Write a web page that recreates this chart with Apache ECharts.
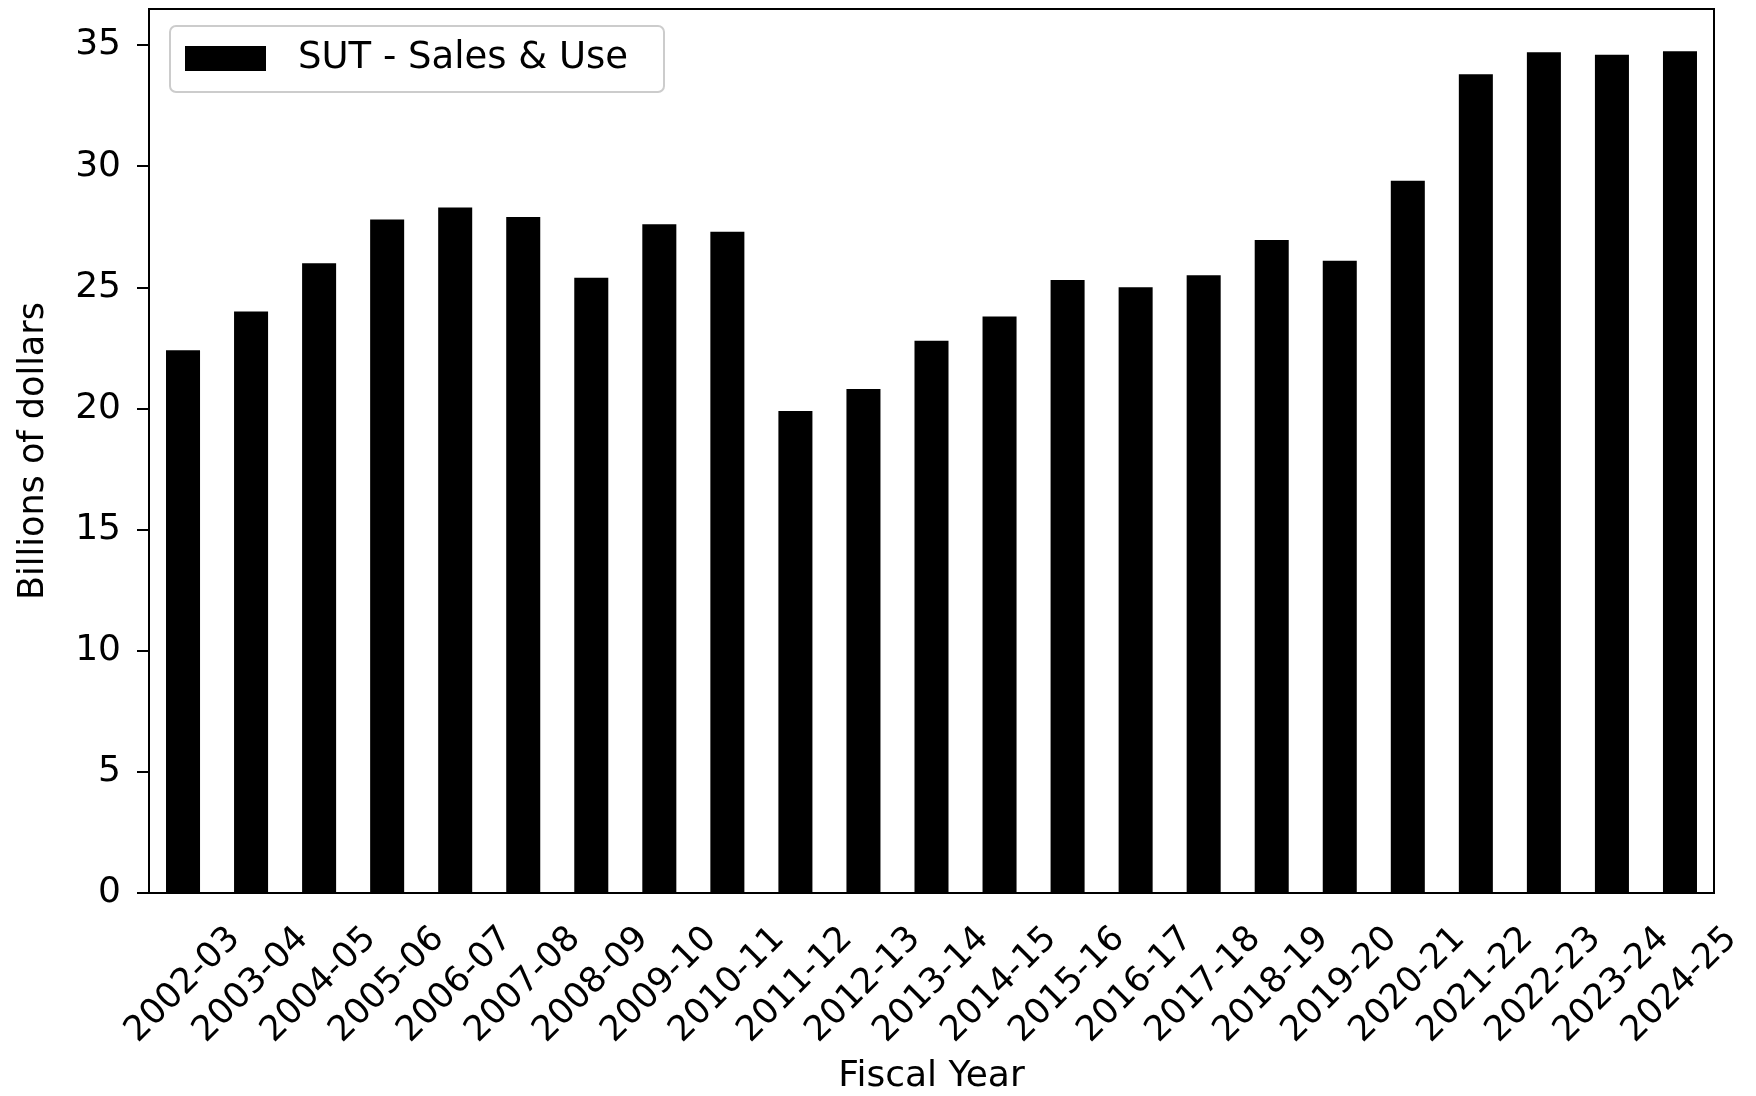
<!DOCTYPE html>
<html>
<head>
<meta charset="utf-8">
<script src="https://cdn.jsdelivr.net/npm/echarts@6/dist/echarts.min.js"></script>
<style>
    html, body { margin: 0; padding: 0; background: #fff; }
    #chart { width: 1756px; height: 1096px; }
</style>
</head>
<body>
<div id="chart"></div>
<script>
// fiscal years on the x axis
const fiscalYears = ['2002-03', '2003-04', '2004-05', '2005-06', '2006-07', '2007-08', '2008-09',
    '2009-10', '2010-11', '2011-12', '2012-13', '2013-14', '2014-15', '2015-16', '2016-17',
    '2017-18', '2018-19', '2019-20', '2020-21', '2021-22', '2022-23', '2023-24', '2024-25'];
// billions of dollars
const salesUse = [22.4, 24.0, 26.0, 27.8, 28.3, 27.9, 25.4, 27.6, 27.3, 19.9, 20.8, 22.8, 23.8,
    25.3, 25.0, 25.5, 26.95, 26.1, 29.4, 33.8, 34.7, 34.6, 34.75];
const yTicks = [0, 5, 10, 15, 20, 25, 30, 35];
const seriesName = 'SUT - Sales & Use';

const font = 'DejaVu Sans';
const chart = echarts.init(document.getElementById('chart'));

chart.setOption({
    animation: false,
    backgroundColor: '#fff',
    textStyle: { fontFamily: font, color: '#000' },
    grid: {
        left: 149, right: 42, top: 9, bottom: 203,
        outerBoundsMode: 'none',
        show: true, borderColor: '#000', borderWidth: 2, backgroundColor: 'transparent'
    },
    legend: {
        data: [seriesName],
        left: 170, top: 26,
        orient: 'vertical',
        icon: 'rect',
        itemWidth: 81, itemHeight: 25,
        padding: [14, 16, 15, 15],
        borderColor: '#cccccc', borderWidth: 2, borderRadius: 6,
        backgroundColor: 'rgba(255,255,255,0.8)',
        textStyle: {
            fontFamily: font, fontSize: 37, color: '#000',
            padding: [0, 0, 0, 27], lineHeight: 35, width: 350
        }
    },
    xAxis: {
        type: 'category',
        data: fiscalYears,
        name: 'Fiscal Year',
        nameLocation: 'middle',
        nameGap: 166,
        nameTextStyle: { fontFamily: font, fontSize: 36, color: '#000' },
        axisLine: { lineStyle: { color: '#000', width: 2 } },
        axisTick: { alignWithLabel: true, length: 12, lineStyle: { color: '#000', width: 2 } },
        axisLabel: {
            interval: 0, rotate: 45, align: 'center', verticalAlign: 'middle', margin: 92,
            fontFamily: font, fontSize: 35, color: '#000'
        },
        splitLine: { show: false }
    },
    yAxis: {
        type: 'value',
        min: 0, max: 36.49,
        name: 'Billions of dollars',
        nameLocation: 'middle',
        nameGap: 98,
        nameTextStyle: { fontFamily: font, fontSize: 35, color: '#000' },
        axisLine: { show: true, lineStyle: { color: '#000', width: 2 } },
        axisTick: { show: true, length: 12, customValues: yTicks, lineStyle: { color: '#000', width: 2 } },
        axisLabel: { customValues: yTicks, margin: 28, fontFamily: font, fontSize: 36, color: '#000' },
        splitLine: { show: false }
    },
    series: [{
        name: seriesName,
        type: 'bar',
        data: salesUse,
        barWidth: '50%',
        itemStyle: { color: '#000' }
    }]
});
</script>
</body>
</html>
